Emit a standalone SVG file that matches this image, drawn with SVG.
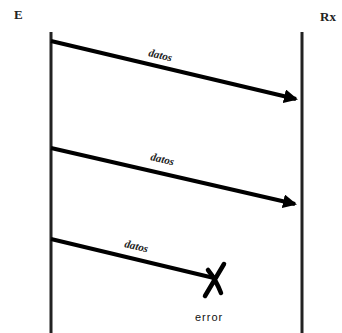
<svg xmlns="http://www.w3.org/2000/svg" width="342" height="333" viewBox="0 0 342 333">
<style>
.life{stroke:#222;stroke-width:3;fill:none}
.msg{stroke:#000;stroke-width:4;fill:none}
.lbl{font-family:"Liberation Serif",serif;font-style:italic;font-weight:bold;font-size:11px;fill:#222}
.hdr{font-family:"Liberation Serif",serif;font-weight:bold;font-size:13px;fill:#222}
.err{font-family:"Liberation Sans",sans-serif;font-size:11px;fill:#111}
</style>
<defs>
<marker id="ah" markerWidth="3.5" markerHeight="3.5" refX="3" refY="1.75" orient="auto" markerUnits="strokeWidth">
<path d="M0,0 L3.5,1.75 L0,3.5 Z" fill="#000"/>
</marker>
</defs>
<g id="E">
<text class="hdr" x="14" y="19">E</text>
<line class="life" x1="51" y1="32" x2="51" y2="333"/>
</g>
<g id="Rx">
<text class="hdr" x="320" y="21">Rx</text>
<line class="life" x1="302" y1="32" x2="302" y2="333"/>
</g>
<g id="connectors">
<line class="msg" x1="51" y1="41" x2="296" y2="99" marker-end="url(#ah)"/>
<text class="lbl" transform="translate(148,56) rotate(13)">datos</text>
<line class="msg" x1="51" y1="148" x2="295" y2="204" marker-end="url(#ah)"/>
<text class="lbl" transform="translate(150,160) rotate(13)">datos</text>
<line class="msg" x1="51" y1="239" x2="214" y2="278"/>
<text class="lbl" transform="translate(124,247) rotate(13)">datos</text>
</g>
<g id="error">
<path d="M205,296 L224,264 M208,270 Q216,280 221,293" stroke="#000" stroke-width="4.5" fill="none" stroke-linecap="round"/>
<text class="err" x="195" y="321" letter-spacing="1">error</text>
</g>
</svg>
